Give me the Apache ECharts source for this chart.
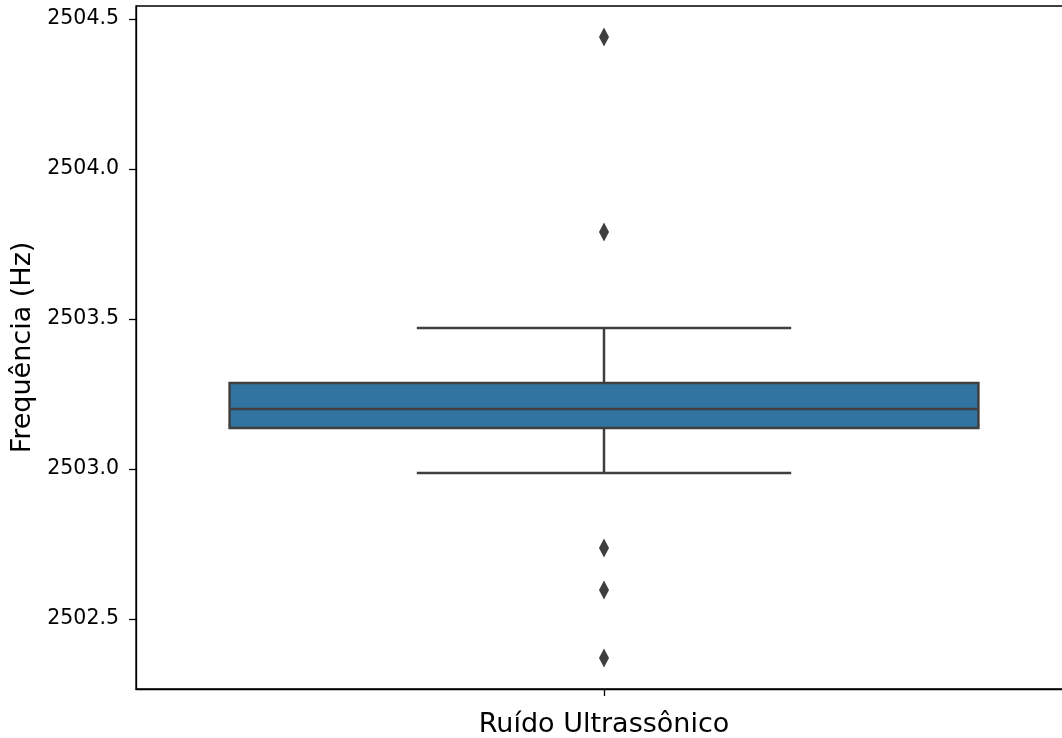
<!DOCTYPE html>
<html>
<head>
<meta charset="utf-8">
<script src="https://cdn.jsdelivr.net/npm/echarts@6/dist/echarts.min.js"></script>
<style>
  html, body { margin: 0; padding: 0; background: #fff; }
  #chart { width: 1062px; height: 738px; }
</style>
</head>
<body>
<div id="chart"></div>
<script>
  // box statistics: [category index, lower whisker, q1, median, q3, upper whisker]
  const categories = ['Ruído Ultrassônico'];
  const boxStats = [[0, 2502.987, 2503.137, 2503.2, 2503.287, 2503.47]];
  const outliers = [2504.44, 2503.79, 2502.737, 2502.597, 2502.37];
  const yTicks = [2502.5, 2503.0, 2503.5, 2504.0, 2504.5];

  const lineColor = '#3f3f3f';
  const boxColor = '#3274a1';

  const chart = echarts.init(document.getElementById('chart'));

  const renderBox = (params, api) => {
    const x = api.value(0);
    const band = api.size([1, 0])[0];
    const pLow = api.coord([x, api.value(1)]);
    const pQ1 = api.coord([x, api.value(2)]);
    const pMed = api.coord([x, api.value(3)]);
    const pQ3 = api.coord([x, api.value(4)]);
    const pHigh = api.coord([x, api.value(5)]);
    const cx = pQ1[0];
    const half = band * 0.4;
    const cap = band * 0.2;
    const lineStyle = { stroke: lineColor, lineWidth: 2.5 };
    return {
      type: 'group',
      children: [
        { type: 'line', shape: { x1: cx, y1: pQ1[1], x2: cx, y2: pLow[1] }, style: lineStyle },
        { type: 'line', shape: { x1: cx, y1: pQ3[1], x2: cx, y2: pHigh[1] }, style: lineStyle },
        { type: 'line', shape: { x1: cx - cap, y1: pLow[1], x2: cx + cap, y2: pLow[1] }, style: lineStyle },
        { type: 'line', shape: { x1: cx - cap, y1: pHigh[1], x2: cx + cap, y2: pHigh[1] }, style: lineStyle },
        {
          type: 'rect',
          shape: { x: cx - half, y: pQ3[1], width: half * 2, height: pQ1[1] - pQ3[1] },
          style: { fill: boxColor, stroke: lineColor, lineWidth: 2.5 }
        },
        { type: 'line', shape: { x1: cx - half, y1: pMed[1], x2: cx + half, y2: pMed[1] }, style: lineStyle }
      ]
    };
  };

  chart.setOption({
    animation: false,
    backgroundColor: '#fff',
    grid: {
      left: 136,
      right: -10,
      top: 6,
      bottom: 49,
      containLabel: false,
      outerBoundsMode: 'none',
      show: true,
      borderColor: '#000',
      borderWidth: 1.3
    },
    xAxis: {
      type: 'category',
      data: categories,
      boundaryGap: true,
      name: 'Ruído Ultrassônico',
      nameLocation: 'middle',
      nameGap: 22,
      nameTextStyle: { fontFamily: 'DejaVu Sans', fontSize: 27, color: '#000' },
      axisLine: { show: true, lineStyle: { color: '#000', width: 1.3 } },
      axisTick: { show: true, alignWithLabel: true, length: 7, inside: false, lineStyle: { color: '#000', width: 1.3 } },
      axisLabel: { show: false },
      splitLine: { show: false }
    },
    yAxis: {
      type: 'value',
      min: 2502.267,
      max: 2504.543,
      name: 'Frequência (Hz)',
      nameLocation: 'middle',
      nameGap: 93,
      nameTextStyle: { fontFamily: 'DejaVu Sans', fontSize: 27, color: '#000' },
      axisLine: { show: true, lineStyle: { color: '#000', width: 1.3 } },
      axisTick: {
        show: true,
        length: 7,
        customValues: yTicks,
        lineStyle: { color: '#000', width: 1.3 }
      },
      axisLabel: {
        customValues: yTicks,
        margin: 17,
        fontFamily: 'DejaVu Sans',
        fontSize: 20.5,
        color: '#000',
        formatter: v => v.toFixed(1)
      },
      splitLine: { show: false }
    },
    series: [
      {
        type: 'custom',
        renderItem: renderBox,
        encode: { x: 0, y: [1, 2, 3, 4, 5] },
        data: boxStats,
        z: 2
      },
      {
        type: 'scatter',
        symbol: 'diamond',
        symbolSize: [10, 19],
        itemStyle: { color: lineColor, opacity: 1 },
        data: outliers.map(v => [0, v]),
        z: 3
      }
    ]
  });
</script>
</body>
</html>
